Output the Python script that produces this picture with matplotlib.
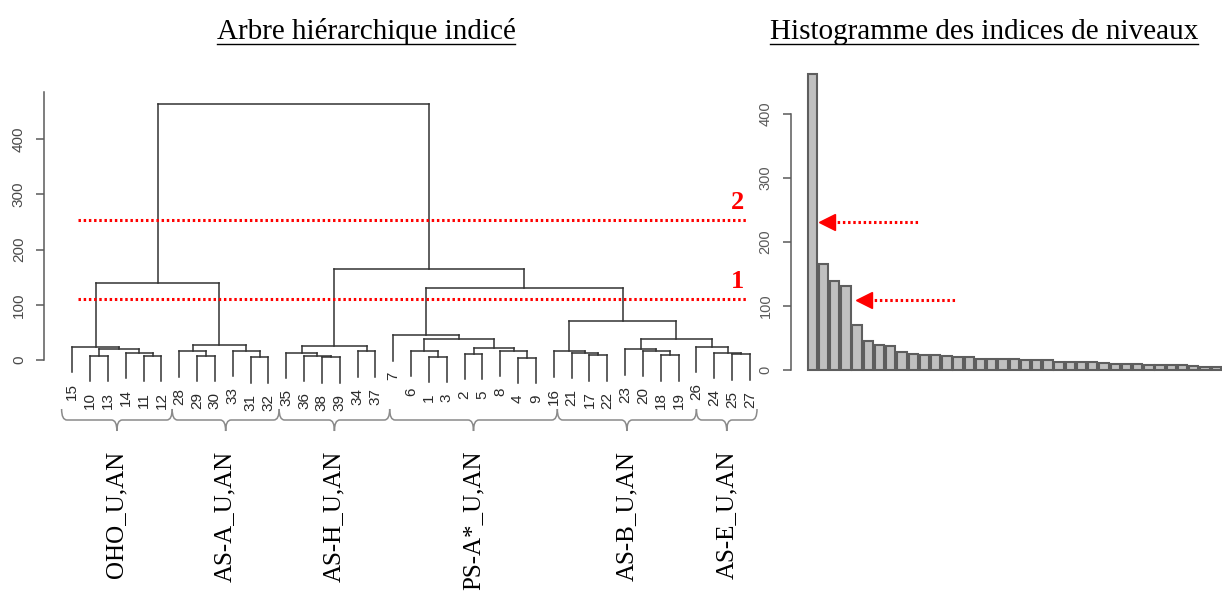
import matplotlib
matplotlib.use("Agg")
import matplotlib.pyplot as plt
import matplotlib.transforms as mtransforms
from matplotlib.path import Path
from matplotlib.patches import PathPatch
from matplotlib.lines import Line2D
from matplotlib.collections import LineCollection

# ---- data: R-style merge matrix (negative = leaf label, positive = earlier merge, 1-based)
merge_left = [-38, -4, -31, -1, -10, -11, -29, -36, -17, -18, -25, -2, -14, -24, -21, -35,
              -28, -34, -16, -33, -6, -8, -20, 5, -23, 12, -15, -26, 16, 17, 25, 21, -7,
              19, 27, 33, 29, 35]
merge_right = [-39, -9, -32, -3, -13, -12, -30, 1, -22, -19, -27, -5, 6, 11, 9, 8, 7, -37,
               15, 3, 4, 2, 10, 13, 23, 22, 24, 14, 18, 20, 28, 26, 32, 31, 30, 34, 36, 37]
merge_height = [4.7, 4.0, 4.7, 6.0, 8.0, 8.0, 8.0, 8.0, 9.0, 9.0, 10.0, 11.5, 13.0, 13.0,
                13.0, 13.0, 15.6, 15.6, 15.6, 17.0, 17.0, 17.0, 17.0, 19.8, 19.8, 22.0,
                24.0, 24.0, 25.5, 28.0, 37.5, 38.5, 45.0, 70.0, 139.0, 131.0, 165.0, 463.0]
hang = 0.1

group_names = ["OHO_U,AN", "AS-A_U,AN", "AS-H_U,AN", "PS-A*_U,AN", "AS-B_U,AN", "AS-E_U,AN"]
group_bounds = [0.4, 6.6, 12.6, 18.8, 28.2, 36.0, 39.4]

cut_levels = [110.5, 253.6]
cut_labels = ["1", "2"]

arrow_levels = [109.4, 231.7]
arrow_tips = [5.46, 1.52]
arrow_tails = [16.1, 12.17]

yticks_dendro = [0, 100, 200, 300, 400]
yticks_hist = [0, 100, 200, 300, 400]

title_left = "Arbre hiérarchique indicé"
title_right = "Histogramme des indices de niveaux"

# ---- figure
W, H = 1222, 592
fig = plt.figure(figsize=(W / 100, H / 100), dpi=100)


def fx(px):
    return px / W


def fy(py):
    return 1 - py / H


line_col = "#333333"
axis_col = "#5a5a5a"
sans = "Liberation Sans"
serif = "Liberation Serif"

# ---- dendrogram layout
n = len(merge_height)
order = []


def collect(idx):
    for c in (merge_left[idx], merge_right[idx]):
        if c < 0:
            order.append(-c)
        else:
            collect(c - 1)


collect(n - 1)
leaf_pos = {lab: i + 1 for i, lab in enumerate(order)}
hmax = max(merge_height)
node_x = {}
leaf_bottom = {}
segs = []
for i in range(n):
    h = merge_height[i]
    xs = []
    for c in (merge_left[i], merge_right[i]):
        if c < 0:
            xc = leaf_pos[-c]
            yc = h - hang * hmax
            leaf_bottom[-c] = yc
        else:
            xc = node_x[c - 1]
            yc = merge_height[c - 1]
        xs.append(xc)
        segs.append([(xc, yc), (xc, h)])
    segs.append([(xs[0], h), (xs[1], h)])
    node_x[i] = (xs[0] + xs[1]) / 2

ax = fig.add_axes([fx(44), fy(394), fx(777 - 44), (394 - 91.7) / H])
ax.add_collection(LineCollection(segs, colors=line_col, linewidths=1.1, capstyle="projecting"))
ax.set_xlim(1 - 1.587, len(order) + 1.52)
ax.set_ylim(-61.6, 486)
for s in ["top", "right", "bottom"]:
    ax.spines[s].set_visible(False)
ax.spines["left"].set_color(axis_col)
ax.spines["left"].set_linewidth(1.1)
ax.spines["left"].set_bounds(0, 486)
ax.set_xticks([])
ax.set_yticks(yticks_dendro)
ax.tick_params(axis="y", direction="out", length=6, width=1.1, color=axis_col,
               labelcolor="#4a4a4a", labelsize=11, pad=7)
for t in ax.get_yticklabels():
    t.set_rotation(90)
    t.set_va("center")
    t.set_family(sans)

for lab, pos in leaf_pos.items():
    ax.annotate(str(lab), xy=(pos, leaf_bottom[lab]), xytext=(0, -11),
                textcoords="offset pixels", rotation=90, ha="center", va="top",
                fontsize=11, family=sans, color="#2a2a2a", annotation_clip=False)

# cut lines
x_first, x_last = 1.32, len(order) - 0.1
for lvl, lab in zip(cut_levels, cut_labels):
    ax.plot([x_first, x_last], [lvl, lvl], color="red", lw=2.2,
            linestyle=(0, (0.8, 0.9)), solid_capstyle="butt")
    ax.annotate(lab, xy=(len(order) - 0.67, lvl), xytext=(0, 6), textcoords="offset pixels",
                ha="center", va="bottom", fontsize=19, fontweight="bold", family=serif,
                color="red")

# braces and group labels
blend = mtransforms.blended_transform_factory(ax.transData, fig.transFigure)
r = 0.3
y_top, y_mid, y_tip = fy(409), fy(420), fy(431)
for k, name in enumerate(group_names):
    x0, x1 = group_bounds[k], group_bounds[k + 1]
    xm = (x0 + x1) / 2
    verts = [(x0, y_top), (x0, y_mid), (x0 + r, y_mid),
             (xm - r, y_mid), (xm, y_mid), (xm, y_tip),
             (xm, y_mid), (xm + r, y_mid),
             (x1 - r, y_mid), (x1, y_mid), (x1, y_top)]
    codes = [Path.MOVETO, Path.CURVE3, Path.CURVE3,
             Path.LINETO, Path.CURVE3, Path.CURVE3,
             Path.CURVE3, Path.CURVE3,
             Path.LINETO, Path.CURVE3, Path.CURVE3]
    ax.add_patch(PathPatch(Path(verts, codes), transform=blend, fill=False,
                           edgecolor="#8a8a8a", lw=1.1, clip_on=False))
    ax.text(xm, fy(451), name, transform=blend, rotation=90, ha="center", va="top",
            fontsize=18, family=serif, color="black", clip_on=False)

# ---- histogram
hist_values = sorted(merge_height, reverse=True)
axh = fig.add_axes([fx(790.5), fy(381.8), fx(1251 - 790.5), (381.8 - 62) / H])
bx = [0.7 + 1.2 * i for i in range(len(hist_values))]
axh.bar(bx, hist_values, width=1.0, color="#c0c0c0", edgecolor="#5e5e5e", linewidth=1.5)
axh.set_xlim(-1.62, 0.2 + 1.2 * len(hist_values) + 1.82)
axh.set_ylim(-18.5, 481.5)
for s in ["top", "right", "bottom"]:
    axh.spines[s].set_visible(False)
axh.spines["left"].set_color(axis_col)
axh.spines["left"].set_linewidth(1.1)
axh.spines["left"].set_bounds(0, 400)
axh.set_xticks([])
axh.set_yticks(yticks_hist)
axh.tick_params(axis="y", direction="out", length=6, width=1.1, color=axis_col,
                labelcolor="#5a5a5a", labelsize=10.5, pad=7)
for t in axh.get_yticklabels():
    t.set_rotation(90)
    t.set_va("center")
    t.set_family(sans)

for lvl, tip, tail in zip(arrow_levels, arrow_tips, arrow_tails):
    axh.plot([tip + 1.3, tail], [lvl, lvl], color="red", lw=2.2,
             linestyle=(0, (0.8, 0.9)), solid_capstyle="butt")
    off = mtransforms.offset_copy(axh.transData, fig=fig, x=7.5, y=0, units="dots")
    axh.plot([tip], [lvl], marker="<", ms=11, color="red", mec="red", transform=off)

# ---- titles with underline
for txt, cx in [(title_left, 366), (title_right, 984)]:
    t = fig.text(fx(cx), fy(39), txt, ha="center", va="baseline", fontsize=21,
                 family=serif, color="black")
    fig.canvas.draw()
    bb = t.get_window_extent()
    fig.add_artist(Line2D([bb.x0 / W, bb.x1 / W], [fy(43.5), fy(43.5)], color="black",
                          lw=1.0, transform=fig.transFigure))

fig.savefig("out.png", dpi=100)
